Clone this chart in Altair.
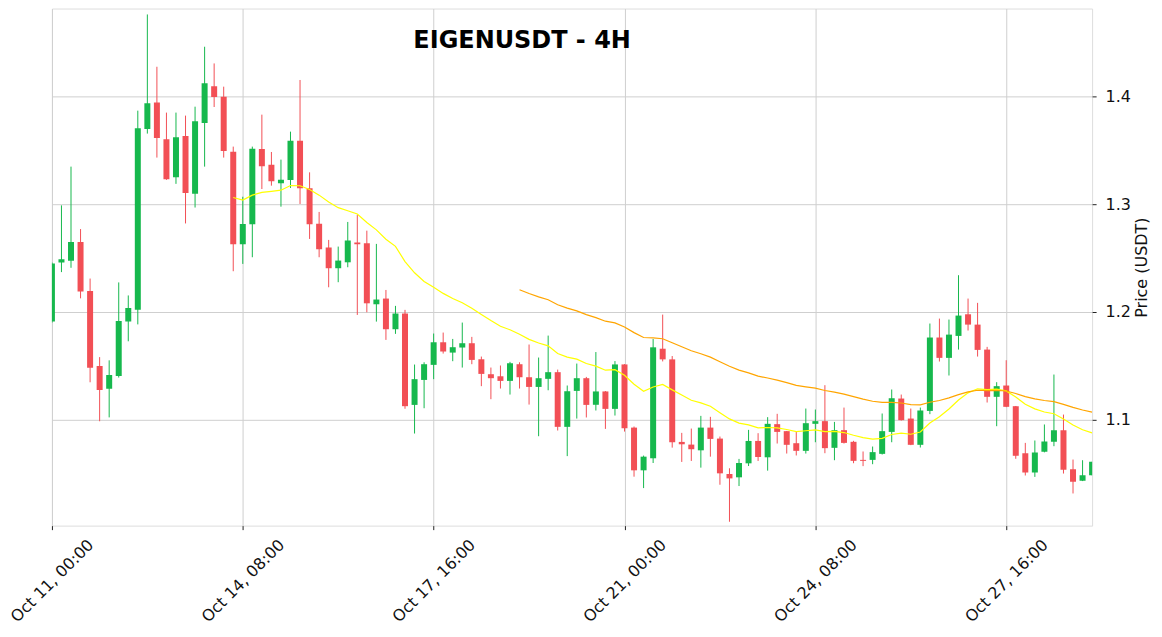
import altair as alt
import pandas as pd
import numpy as np

# ---- data (4H candles, index 0 = Oct 11 00:00) ----
opens = [1.191, 1.246, 1.2475, 1.265, 1.2194, 1.1498, 1.1287, 1.1405, 1.191, 1.202,
         1.37, 1.3947, 1.3604, 1.3251, 1.3635, 1.3097, 1.3756, 1.4096, 1.4, 1.3489,
         1.2628, 1.2814, 1.3514, 1.3368, 1.3195, 1.3226, 1.3591, 1.3149, 1.282, 1.2598,
         1.2406, 1.2461, 1.2644, 1.2638, 1.2071, 1.2124, 1.1839, 1.1985, 1.1136, 1.1368,
         1.1508, 1.1718, 1.1622, 1.1669, 1.1709, 1.156, 1.1421, 1.1402, 1.1359, 1.1514,
         1.1393, 1.1303, 1.1378, 1.144, 1.0932, 1.1266, 1.1384, 1.1137, 1.1261, 1.1099,
         1.1512, 1.0925, 1.0528, 1.064, 1.1658, 1.1559, 1.0792, 1.0767, 1.0714, 1.0925,
         1.0823, 1.0494, 1.0463, 1.0593, 1.0801, 1.0649, 1.0957, 1.0892, 1.078, 1.0709,
         1.096, 1.0985, 1.0737, 1.0901, 1.0793, 1.0625, 1.0625, 1.0681, 1.0885, 1.1195,
         1.1009, 1.0765, 1.108, 1.1762, 1.1573, 1.1777, 1.1978, 1.1882, 1.165, 1.1211,
         1.1316, 1.1124, 1.0687, 1.0508, 1.07, 1.0793, 1.0901, 1.0539, 1.043, 1.0483]
highs = [1.246, 1.299, 1.335, 1.277, 1.231, 1.158, 1.155, 1.2274, 1.2153, 1.387,
         1.4764, 1.4278, 1.3852, 1.3852, 1.3824, 1.3907, 1.4464, 1.4309, 1.4093, 1.3536,
         1.307, 1.3536, 1.3833, 1.3486, 1.3415, 1.3675, 1.4155, 1.3297, 1.2929, 1.2669,
         1.2607, 1.2836, 1.2901, 1.2755, 1.2632, 1.2204, 1.2056, 1.2019, 1.1511, 1.1532,
         1.1799, 1.1808, 1.1749, 1.1901, 1.1768, 1.1585, 1.1483, 1.1502, 1.1536, 1.1532,
         1.1697, 1.1576, 1.178, 1.1464, 1.1316, 1.152, 1.1396, 1.1627, 1.1265, 1.1543,
         1.1515, 1.0935, 1.0665, 1.1748, 1.1975, 1.159, 1.0876, 1.0916, 1.1034, 1.1025,
         1.0842, 1.0547, 1.0634, 1.0904, 1.0873, 1.1022, 1.1053, 1.0894, 1.0892, 1.1102,
         1.1093, 1.1319, 1.0978, 1.1111, 1.0802, 1.0703, 1.0749, 1.1056, 1.1279, 1.1232,
         1.1102, 1.1111, 1.1892, 1.1938, 1.1929, 1.2341, 1.2124, 1.2084, 1.1675, 1.1347,
         1.1551, 1.1126, 1.0783, 1.0805, 1.0954, 1.1418, 1.1046, 1.0628, 1.0622, 1.0607]
lows = [1.19, 1.237, 1.241, 1.2126, 1.1346, 1.0984, 1.102, 1.139, 1.1727, 1.1884,
        1.3657, 1.3434, 1.3227, 1.319, 1.2822, 1.297, 1.335, 1.3904, 1.3434, 1.2378,
        1.2446, 1.2508, 1.3142, 1.3173, 1.2978, 1.3152, 1.3003, 1.2678, 1.2508, 1.2229,
        1.2276, 1.2415, 1.1972, 1.1997, 1.191, 1.174, 1.1796, 1.11, 1.087, 1.1105,
        1.1375, 1.1613, 1.1542, 1.1483, 1.1514, 1.131, 1.1189, 1.1288, 1.1232, 1.1288,
        1.1139, 1.0845, 1.1272, 1.0898, 1.066, 1.1009, 1.1019, 1.1084, 1.0913, 1.1037,
        1.0888, 1.0469, 1.0363, 1.0596, 1.154, 1.0739, 1.0606, 1.0615, 1.0553, 1.0655,
        1.0394, 1.005, 1.0382, 1.0568, 1.0615, 1.0525, 1.0777, 1.0684, 1.0666, 1.0684,
        1.0789, 1.0687, 1.0622, 1.0777, 1.0594, 1.0567, 1.0585, 1.0675, 1.0789, 1.099,
        1.0762, 1.074, 1.105, 1.1539, 1.1409, 1.165, 1.1827, 1.1585, 1.1158, 1.0938,
        1.1115, 1.0635, 1.048, 1.0467, 1.0695, 1.0752, 1.0498, 1.0313, 1.0428, 1.0481]
closes = [1.245, 1.249, 1.265, 1.219, 1.148, 1.1275, 1.1414, 1.1915, 1.2036, 1.3706,
          1.3938, 1.3616, 1.3233, 1.3623, 1.3106, 1.3771, 1.4124, 1.3997, 1.3496, 1.2628,
          1.2817, 1.3517, 1.3353, 1.3214, 1.3229, 1.3591, 1.3149, 1.2814, 1.2582, 1.2406,
          1.2477, 1.2663, 1.2628, 1.208, 1.2115, 1.1839, 1.1985, 1.1124, 1.1375, 1.1514,
          1.1718, 1.1632, 1.1672, 1.1709, 1.1554, 1.1424, 1.1384, 1.1359, 1.1523, 1.1393,
          1.1303, 1.1384, 1.144, 1.0932, 1.1263, 1.1384, 1.1136, 1.1261, 1.1099, 1.1512,
          1.0919, 1.0528, 1.0655, 1.1671, 1.1559, 1.0789, 1.077, 1.0724, 1.0925, 1.082,
          1.05, 1.0453, 1.0596, 1.0801, 1.0652, 1.096, 1.0885, 1.0765, 1.0709, 1.0966,
          1.0985, 1.0734, 1.0901, 1.0783, 1.0616, 1.0616, 1.0697, 1.0892, 1.1198, 1.0994,
          1.0765, 1.1084, 1.1762, 1.1573, 1.1789, 1.1966, 1.1882, 1.1647, 1.1211, 1.131,
          1.1118, 1.0663, 1.0508, 1.0693, 1.0796, 1.0901, 1.0533, 1.0421, 1.0483, 1.0607]

tick_positions = [0, 20, 40, 60, 80, 100]
tick_labels = ["Oct 11, 00:00", "Oct 14, 08:00", "Oct 17, 16:00",
               "Oct 21, 00:00", "Oct 24, 08:00", "Oct 27, 16:00"]
price_ticks = [1.1, 1.2, 1.3, 1.4]

df = pd.DataFrame({"i": list(range(len(closes))), "open": opens, "high": highs,
                   "low": lows, "close": closes})
df["dir"] = np.where(df["close"] >= df["open"], "up", "down")

# exponential moving averages of the closes (indicator lines of the reference)
ema20 = df["close"].ewm(span=20, adjust=False).mean()
ema50 = df["close"].ewm(span=50, adjust=False).mean()
ma20 = pd.DataFrame({"i": df["i"], "ma": ema20})[df["i"] >= 19]
ma50 = pd.DataFrame({"i": df["i"], "ma": ema50})[df["i"] >= 49]

FONT = "DejaVu Sans"
label_expr = "[" + ",".join("'%s'" % t for t in tick_labels) + "][round(datum.value/20)]"

x_enc = alt.X("i:Q",
              scale=alt.Scale(domain=[0, len(closes) - 1], nice=False, zero=False, padding=0),
              axis=alt.Axis(values=tick_positions, labelExpr=label_expr, title=None,
                            labelAngle=-45, labelAlign="center", labelBaseline="middle",
                            labelPadding=51, tickSize=4, tickColor="#222222",
                            labelFontSize=16, labelFont=FONT, labelColor="#111111",
                            domain=False, grid=True, gridColor="#cfcfcf", gridWidth=1))
y_scale = alt.Scale(domain=[1.0014, 1.4819], nice=False, zero=False)
y_axis = alt.Axis(orient="right", values=price_ticks, format=".1f", title="Price (USDT)",
                  titleAngle=-90, titleFontSize=16, titleFont=FONT, titleFontWeight="normal",
                  titleColor="#111111", titlePadding=19,
                  labelFontSize=16, labelFont=FONT, labelColor="#111111", labelPadding=9,
                  tickSize=4, tickColor="#222222", domain=False,
                  grid=True, gridColor="#cfcfcf", gridWidth=1)

color = alt.Color("dir:N", scale=alt.Scale(domain=["up", "down"],
                                           range=["#16b84d", "#f24f55"]), legend=None)

base = alt.Chart(df)
wicks = base.mark_rule(strokeWidth=1, clip=True).encode(
    x=x_enc, y=alt.Y("low:Q", scale=y_scale, axis=y_axis), y2="high:Q", color=color)
bodies = base.mark_bar(size=6, clip=True).encode(
    x=x_enc, y=alt.Y("open:Q", scale=y_scale, axis=y_axis), y2="close:Q", color=color)
line20 = alt.Chart(ma20).mark_line(color="#ffff00", strokeWidth=1.2, clip=True).encode(
    x=x_enc, y=alt.Y("ma:Q", scale=y_scale, axis=y_axis))
line50 = alt.Chart(ma50).mark_line(color="#ffa500", strokeWidth=1.2, clip=True).encode(
    x=x_enc, y=alt.Y("ma:Q", scale=y_scale, axis=y_axis))

chart = alt.layer(wicks, bodies, line20, line50).properties(
    width=1042, height=518,
    autosize=alt.AutoSizeParams(type="none"),
    padding={"left": 44, "top": 0, "right": 62, "bottom": 103},
    title=alt.TitleParams("EIGENUSDT - 4H", anchor="middle", orient="top", offset=0,
                          baseline="alphabetic", dy=64, dx=-50, fontSize=24,
                          font=FONT, fontWeight="bold", color="#000000"),
).configure_view(stroke="#e8e8e8", fill="#f9f9f9").configure(background="white")

chart.save("out.html", embed_options={"renderer": "svg", "actions": False})
